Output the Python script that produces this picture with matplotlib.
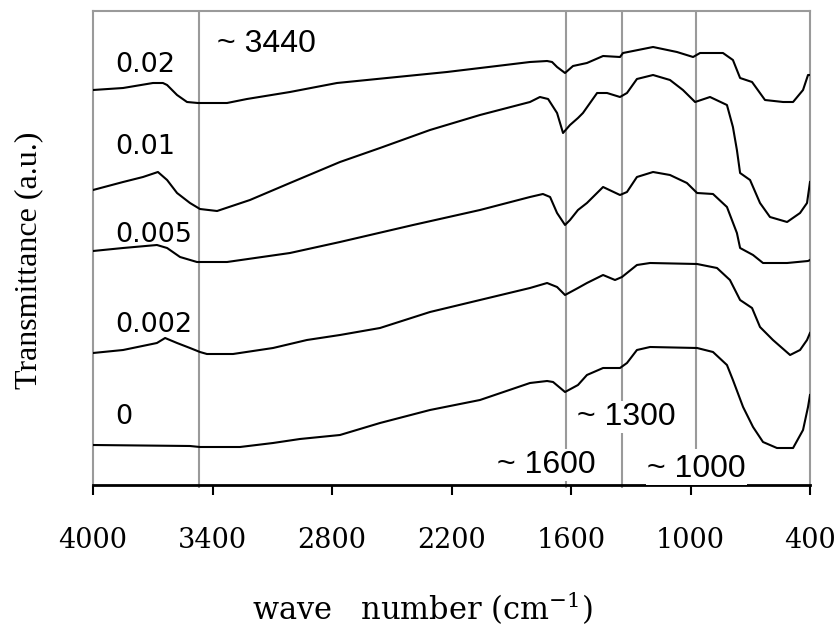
import numpy as np
import matplotlib
matplotlib.use('Agg')
import matplotlib.pyplot as plt

plt.rcParams['mathtext.default'] = 'regular'

# wave numbers (cm-1) and transmittance (a.u.)
wn_002 = [4000, 3849, 3699, 3649, 3628, 3578, 3528, 3473, 3327, 3227, 3011, 2775, 2474, 2223, 1972, 1806,
          1720, 1695, 1670, 1630, 1590, 1520, 1439, 1354, 1339, 1188, 1068, 987, 952, 837, 787, 751,
          691, 626, 535, 485, 435, 410, 400]
T_002 = [395, 397, 402, 402, 400, 390, 383, 382, 382, 386, 393, 402, 408, 413, 419, 423,
         424, 423, 418, 412, 419, 422, 429, 428, 432, 438, 433, 428, 432, 432, 425, 407,
         403, 385, 383, 383, 395, 410, 410]

wn_001 = [4000, 3849, 3749, 3674, 3628, 3578, 3513, 3463, 3377, 3212, 3011, 2760, 2559, 2308, 2057, 1806,
          1756, 1715, 1670, 1640, 1605, 1565, 1540, 1469, 1419, 1354, 1319, 1269, 1188, 1103, 1038,
          977, 902, 817, 787, 767, 751, 701, 651, 601, 515, 450, 415, 400]
T_001 = [295, 303, 308, 313, 305, 292, 282, 276, 274, 285, 302, 323, 337, 355, 370, 383,
         388, 386, 372, 352, 360, 367, 372, 392, 392, 388, 392, 406, 410, 405, 395,
         383, 388, 380, 358, 335, 312, 305, 282, 268, 263, 272, 282, 303]

wn_0005 = [4000, 3849, 3679, 3628, 3563, 3478, 3327, 3011, 2760, 2393, 2057, 1806, 1741, 1705, 1670, 1630,
           1605, 1565, 1520, 1439, 1354, 1319, 1269, 1188, 1103, 1018, 967, 887, 817, 767, 751,
           686, 636, 515, 410, 400]
T_0005 = [234, 237, 240, 237, 228, 223, 223, 232, 243, 260, 275, 288, 291, 288, 272, 260,
          265, 275, 282, 298, 290, 293, 308, 313, 310, 302, 292, 291, 278, 252, 237,
          230, 222, 222, 224, 225]

wn_0002 = [4000, 3849, 3679, 3638, 3578, 3513, 3463, 3428, 3297, 3096, 2926, 2760, 2559, 2308, 2057, 1806,
           1720, 1670, 1630, 1565, 1520, 1439, 1379, 1344, 1269, 1203, 967, 867, 802, 751, 691,
           651, 586, 500, 450, 415, 400]
T_0002 = [132, 135, 142, 147, 142, 137, 133, 131, 131, 137, 145, 150, 157, 173, 185, 197,
          202, 198, 190, 197, 202, 210, 205, 208, 220, 222, 221, 217, 205, 185, 177,
          158, 145, 130, 135, 145, 152]

wn_0 = [4000, 3513, 3463, 3262, 3096, 2961, 2760, 2559, 2308, 2057, 1806, 1720, 1690, 1630, 1565, 1520,
        1439, 1354, 1319, 1269, 1203, 967, 887, 817, 787, 736, 686, 636, 566, 485, 435, 410, 400]
T_0 = [40, 39, 38, 38, 42, 46, 50, 62, 75, 85, 102, 104, 103, 93, 100, 110,
       117, 117, 122, 135, 138, 137, 133, 120, 105, 78, 58, 43, 37, 37, 55, 78, 90]

series = [(wn_002, T_002), (wn_001, T_001), (wn_0005, T_0005), (wn_0002, T_0002), (wn_0, T_0)]
conc_labels = ['0.02', '0.01', '0.005', '0.002', '0']
conc_label_y = [413, 331, 243, 153, 61]

peak_wn = [3466, 1627, 1345, 970]
peak_text = ['~ 3440', '~ 1600', '~ 1300', '~ 1000']
peak_text_pos = [(3377, 433), (1972, 12), (1570, 60), (1218, 8)]

xticks = [4000, 3400, 2800, 2200, 1600, 1000, 400]

fig = plt.figure(figsize=(8.37, 6.28), dpi=100)
ax = fig.add_axes([93/837, 143/628, 717/837, 474/628])

gray = '#9a9a9a'
for w in peak_wn:
    lo = 36 if w == 970 else -3
    ax.vlines(w, lo, 474, color=gray, lw=1.5, zorder=1, clip_on=False)

for wn, T in series:
    ax.plot(wn, T, color='black', lw=1.5, zorder=3)

for lab, yy in zip(conc_labels, conc_label_y):
    ax.text(3890, yy, lab, fontsize=19.5, va='baseline', ha='left',
            family='DejaVu Sans', zorder=4)

for t, (x, y) in zip(peak_text, peak_text_pos):
    ax.text(x, y, t, fontsize=23, va='baseline', ha='left', family='Liberation Sans',
            zorder=4, bbox=dict(facecolor='white', edgecolor='none', pad=1))

ax.set_xlim(4000, 400)
ax.set_ylim(0, 474)
ax.set_yticks([])
ax.set_xticks(xticks)
ax.set_xticklabels([str(v) for v in xticks], family='DejaVu Serif', fontsize=19.5)
ax.tick_params(axis='x', direction='out', length=7.5, width=1.5, pad=23, color='black')

for s in ['left', 'top', 'right']:
    ax.spines[s].set_color(gray)
    ax.spines[s].set_linewidth(1.5)
ax.spines['bottom'].set_color('black')
ax.spines['bottom'].set_linewidth(2)

fig.text(29/837, 1 - 260/628, 'Transmittance (a.u.)', rotation=90, ha='center', va='center',
         family='Liberation Serif', fontsize=23)
fig.text(422/837, 1 - 620/628, 'wave   number (cm$^{-1}$)', ha='center', va='baseline',
         family='DejaVu Serif', fontsize=22)

fig.savefig('out.png', dpi=100)
